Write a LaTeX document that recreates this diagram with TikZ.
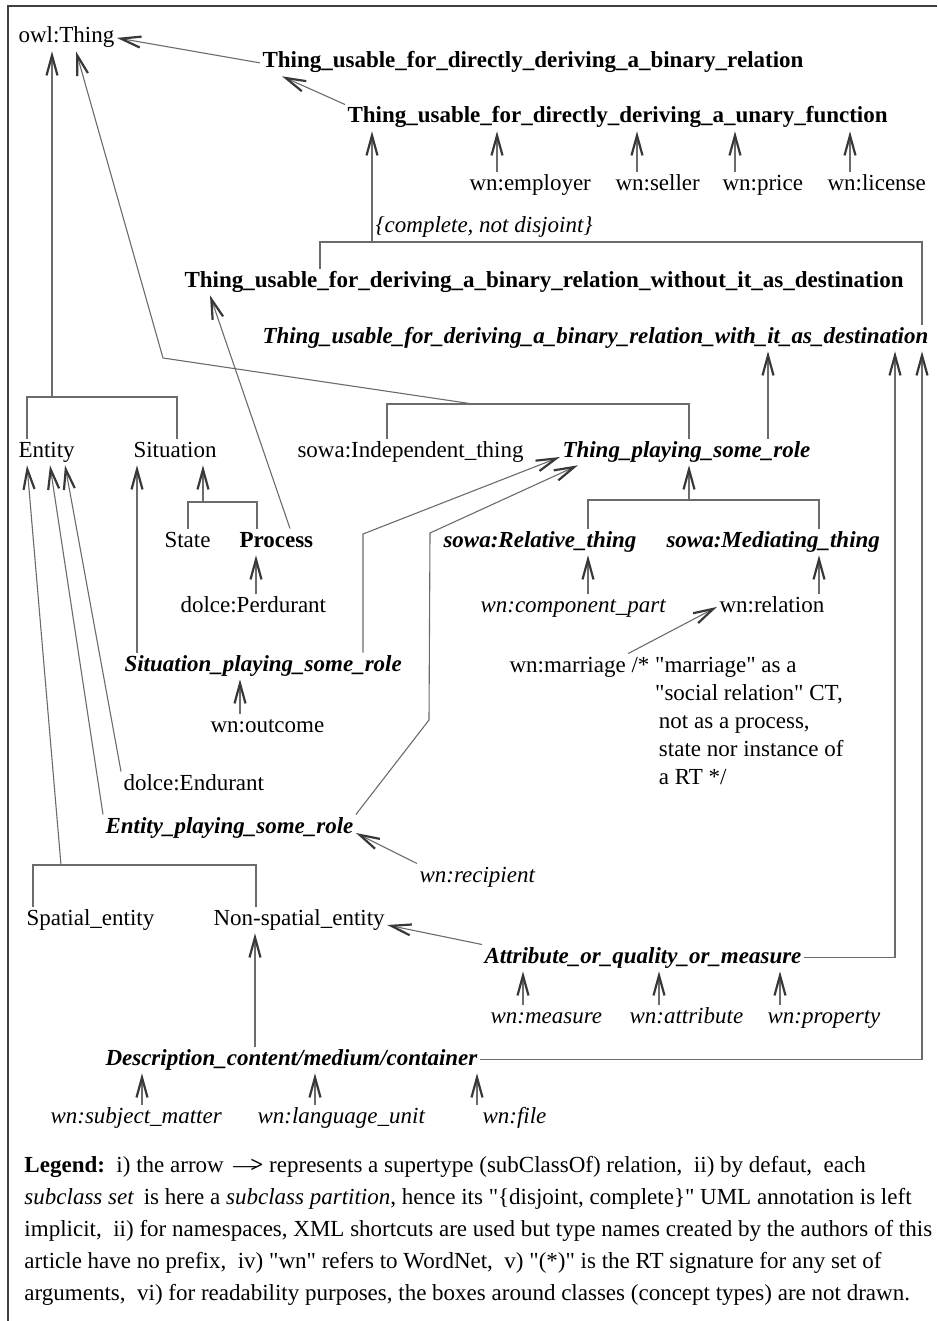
\documentclass[tikz,border=0pt]{standalone}
\usepackage{fontspec}
\setmainfont{Liberation Serif}[Scale=1.15,Ligatures=TeXOff]
\usetikzlibrary{arrows.meta}

\definecolor{linegray}{gray}{0.42}
\definecolor{tipgray}{gray}{0.22}

\begin{document}
\begin{tikzpicture}[x=0.5pt,y=-0.5pt,
    cls/.style={anchor=base west,inner sep=0pt,outer sep=1.25pt,text height=8pt,text depth=2.9pt},
    key/.style={cls,font=\bfseries},
    role/.style={cls,font=\bfseries\itshape},
    wn/.style={cls,font=\itshape},
    note/.style={anchor=north west,inner sep=0pt,outer sep=1.25pt,align=left},
    line/.style={draw=linegray,line width=0.55pt},
    isa/.style={line,-{Straight Barb[length=10pt,width=5.5pt,line width=1.1pt,color=tipgray]}}]
  \useasboundingbox (0,0) rectangle (937,1321);
  \draw[black!75,line width=0.9pt] (8,1321) -- (8,6) -- (937,6);

  % top of the hierarchy
  \node[cls] (owl) at (16,43) {owl:Thing};
  \node[key] (binrel) at (260,68) {Thing\_usable\_for\_directly\_deriving\_a\_binary\_relation};
  \node[key] (unary) at (345,123) {Thing\_usable\_for\_directly\_deriving\_a\_unary\_function};
  \node[cls] (employer) at (467,191) {wn:employer};
  \node[cls] (seller) at (613,191) {wn:seller};
  \node[cls] (price) at (720,191) {wn:price};
  \node[cls] (license) at (825,191) {wn:license};
  \node[wn] (complete) at (373,233) {\{complete, not disjoint\}};
  \node[key] (without) at (182,287) {Thing\_usable\_for\_deriving\_a\_binary\_relation\_without\_it\_as\_destination};
  \node[role] (with) at (260,343) {Thing\_usable\_for\_deriving\_a\_binary\_relation\_with\_it\_as\_destination};

  % middle part
  \node[cls] (entity) at (16,457) {Entity};
  \node[cls] (situation) at (131,457) {Situation};
  \node[cls] (indep) at (295,457) {sowa:Independent\_thing};
  \node[role] (playing) at (560,457) {Thing\_playing\_some\_role};
  \node[cls] (state) at (162,547) {State};
  \node[key] (process) at (237,547) {Process};
  \node[role] (relthing) at (441,547) {sowa:Relative\_thing};
  \node[role] (medthing) at (664,547) {sowa:Mediating\_thing};
  \node[cls] (perdurant) at (178,612) {dolce:Perdurant};
  \node[wn] (component) at (478,612) {wn:component\_part};
  \node[cls] (relation) at (717,612) {wn:relation};
  \node[role] (sitrole) at (122,671) {Situation\_playing\_some\_role};
  \node[cls] (marriage) at (507,672) {wn:marriage};
  \node[note,font=\fontsize{10}{14}\selectfont] (comment) at (629,655)
    {/* "marriage" as a\\ \hphantom{/* }"social relation" CT,\\ \hphantom{/* }\,not as a process,\\
     \hphantom{/* }\,state nor instance of\\ \hphantom{/* }\,a RT */};
  \node[cls] (outcome) at (208,732) {wn:outcome};
  \node[cls] (endurant) at (121,790) {dolce:Endurant};
  \node[role] (entrole) at (103,833) {Entity\_playing\_some\_role};
  \node[wn] (recipient) at (417,882) {wn:recipient};

  % lower part
  \node[cls] (spatial) at (24,925) {Spatial\_entity};
  \node[cls] (nonspatial) at (211,925) {Non-spatial\_entity};
  \node[role] (attribute) at (482,963) {Attribute\_or\_quality\_or\_measure};
  \node[wn] (measure) at (488,1023) {wn:measure};
  \node[wn] (attr) at (627,1023) {wn:attribute};
  \node[wn] (property) at (765,1023) {wn:property};
  \node[role] (description) at (103,1065) {Description\_content/medium/container};
  \node[wn] (subject) at (48,1123) {wn:subject\_matter};
  \node[wn] (language) at (255,1123) {wn:language\_unit};
  \node[wn] (file) at (480,1123) {wn:file};

  \node[note,font=\fontsize{10}{16}\selectfont] (legend) at (22,1154)
    {\textbf{Legend:}\ \ i) the arrow \,—\kern-3pt\textbf{>} represents a supertype (subClassOf) relation,\ \ ii) by defaut,\ \ each\\
     \textit{subclass set}\, is here a \textit{subclass partition}, hence its "\{disjoint, complete\}" UML annotation is left\\
     implicit,\ \ ii) for namespaces, XML shortcuts are used but type names created by the authors of this\\
     article have no prefix,\ \ iv) "wn" refers to WordNet,\ \ v) "(*)" is the RT signature for any set of\\
     arguments,\ \ vi) for readability purposes, the boxes around classes (concept types) are not drawn.};

  % subclass sets
  \coordinate (split) at (372,242);
  \coordinate (entsit) at (52,397);
  \coordinate (indplay) at (473,404);
  \coordinate (elbow) at (163,358);
  \coordinate (stproc) at (203,502);
  \coordinate (relmed) at (689,500);
  \coordinate (spnsp) at (61,865);
  \draw[line] (without.north -| 320,0) |- (split) -| (with.north -| 922,0);
  \draw[line] (entity.north -| 27,0) |- (entsit) -| (situation.north -| 177,0);
  \draw[line] (indep.north -| 387,0) |- (indplay) -| (playing.north -| 689,0);
  \draw[line] (state.north -| 188,0) |- (stproc) -| (process.north -| 257,0);
  \draw[line] (relthing.north -| 588,0) |- (relmed) -| (medthing.north -| 819,0);
  \draw[line] (spatial.north -| 33,0) |- (spnsp) -| (nonspatial.north -| 256,0);

  % supertype arrows
  \draw[isa] (binrel.west) -- (owl.east);
  \draw[isa] (unary.north west) -- (binrel.south -| 282,0);
  \draw[isa] (employer.north -| 497,0) -- (unary.south -| 497,0);
  \draw[isa] (seller.north -| 637,0) -- (unary.south -| 637,0);
  \draw[isa] (price.north -| 735,0) -- (unary.south -| 735,0);
  \draw[isa] (license.north -| 850,0) -- (unary.south -| 850,0);
  \draw[isa] (split) -- (unary.south -| split);
  \draw[isa] (entsit) -- (owl.south -| entsit);
  \draw[isa] (indplay) -- (elbow) -- (owl.south -| 76,0);
  \draw[isa] (process.north -| 290,0) -- (without.south -| 210,0);
  \draw[isa] (stproc) -- (situation.south -| stproc);
  \draw[isa] (perdurant.north -| 256,0) -- (process.south -| 256,0);
  \draw[isa] (sitrole.north -| 137,0) -- (situation.south -| 137,0);
  \draw[isa] (sitrole.north -| 363,0) -- (363,534) -- (playing.base west);
  \draw[isa] (entrole.north east) -- (429,720) -- (430,533) -- (playing.south -| 578,0);
  \draw[isa] (playing.north -| 768,0) -- (with.south -| 768,0);
  \draw[isa] (relmed) -- (playing.south -| relmed);
  \draw[isa] (component.north -| 588,0) -- (relthing.south -| 588,0);
  \draw[isa] (relation.north -| 819,0) -- (medthing.south -| 819,0);
  \draw[isa] (marriage.north east) -- (relation.west);
  \draw[isa] (outcome.north -| 240,0) -- (sitrole.south -| 240,0);
  \draw[isa] (endurant.north west) -- (entity.south -| 65,0);
  \draw[isa] (entrole.north west) -- (entity.south -| 50,0);
  \draw[isa] (spnsp) -- (entity.south -| 27,0);
  \draw[isa] (recipient.north west) -- (entrole.base east);
  \draw[isa] (attribute.north west) -- (nonspatial.base east);
  \draw[isa] (attribute.east) -| (with.south -| 895,0);
  \draw[isa] (measure.north -| 523,0) -- (attribute.south -| 523,0);
  \draw[isa] (attr.north -| 659,0) -- (attribute.south -| 659,0);
  \draw[isa] (property.north -| 780,0) -- (attribute.south -| 780,0);
  \draw[isa] (description.north -| 255,0) -- (nonspatial.south -| 255,0);
  \draw[isa] (description.east) -| (with.south -| 922,0);
  \draw[isa] (subject.north -| 142,0) -- (description.south -| 142,0);
  \draw[isa] (language.north -| 315,0) -- (description.south -| 315,0);
  \draw[isa] (file.north -| 477,0) -- (description.south -| 477,0);
\end{tikzpicture}
\end{document}
